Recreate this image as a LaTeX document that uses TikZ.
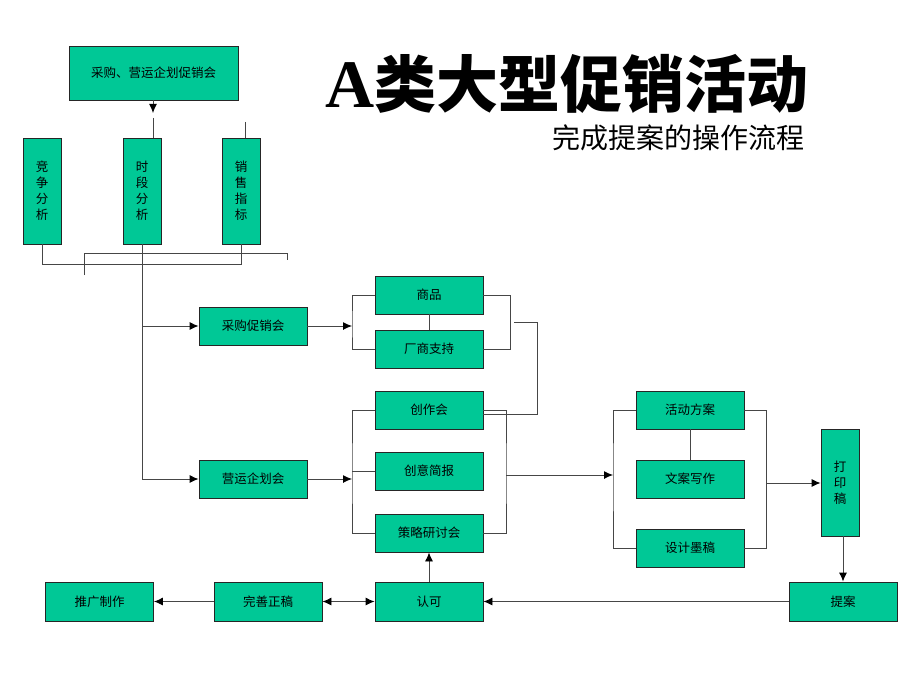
\documentclass[tikz,border=0pt]{standalone}
\usepackage{fontspec}
\setmainfont{Noto Sans CJK SC}
\newfontfamily\cjk{Noto Sans CJK SC}
\newfontfamily\romanA{Liberation Serif}
\usetikzlibrary{arrows.meta}
\definecolor{boxgreen}{RGB}{0,200,150}
\definecolor{linegray}{RGB}{70,70,70}

\begin{document}
\begin{tikzpicture}[x=1pt, y=-1pt, >={Latex[length=9pt,width=8pt,black]},
  box/.style={draw=black!85, line width=0.9pt, fill=boxgreen, inner sep=0pt,
    minimum width=108pt, minimum height=38pt, font=\fontsize{12.5}{14}\selectfont},
  tallbox/.style={box, minimum width=38pt, minimum height=106pt, align=center,
    font=\fontsize{12.5}{16}\selectfont},
  link/.style={draw=linegray, line width=0.9pt}]
\useasboundingbox (0,0) rectangle (920,690);
% title
\node[anchor=base west, inner sep=0pt] (title) at (325,107)
  {{\fontsize{68}{70}\selectfont\romanA\bfseries A}{\fontsize{62}{64}\selectfont\cjk\bfseries 类大型促销活动}};
\node[anchor=base east, inner sep=0pt] (subtitle) at (805,148)
  {\fontsize{28}{30}\selectfont 完成提案的操作流程};
% boxes
\node[box, minimum width=169pt, minimum height=54pt] (meet) at (153.5,73) {采购、营运企划促销会};
\node[tallbox] (comp) at (42,191) {竞\\争\\分\\析};
\node[tallbox] (time) at (142,191) {时\\段\\分\\析};
\node[tallbox] (sales) at (241,191) {销\\售\\指\\标};
\node[box] (buy) at (253,326) {采购促销会};
\node[box] (ops) at (253,479) {营运企划会};
\node[box] (goods) at (429,295) {商品};
\node[box] (vendor) at (429,349) {厂商支持};
\node[box] (create) at (429,410) {创作会};
\node[box] (brief) at (429,471) {创意简报};
\node[box] (strategy) at (429,533) {策略研讨会};
\node[box] (plan) at (690,410) {活动方案};
\node[box] (copy) at (690,479) {文案写作};
\node[box] (design) at (690,548) {设计墨稿};
\node[tallbox, minimum height=107pt] (print) at (840,482.5) {打\\印\\稿};
\node[box, minimum height=39pt] (proposal) at (843,601.5) {提案};
\node[box, minimum height=39pt] (approve) at (429,601.5) {认可};
\node[box, minimum height=39pt] (final) at (268,601.5) {完善正稿};
\node[box, minimum height=39pt] (promo) at (99.5,601.5) {推广制作};
% free ends
\coordinate (meetend) at (153,113);
\coordinate (timetop) at (153,118);
\coordinate (salestop) at (245,122);
\coordinate (jbar) at (0,264);
\coordinate (gl) at (84,275);
\coordinate (gm) at (287,253);
\coordinate (gr) at (287,260);
\coordinate (bj) at (352,326);
\coordinate (sp) at (514,322);
\coordinate (sq) at (537,414);
\coordinate (oj) at (352,475);
\coordinate (cr) at (506,475);
\coordinate (pj) at (613,475);
\coordinate (pr) at (766,483);
% connectors
\draw [->, link] (meet.south -| meetend) -- (meetend);
\draw [link] (timetop) -- (timetop |- time.north);
\draw [link] (salestop) -- (salestop |- sales.north);
\draw [link] (comp.south) -- (comp.south |- jbar) -| (sales.south);
\draw [link] (gl) |- (gm) -- (gr);
\draw [->, link] (time.south) |- (ops.west);
\draw [->, link] (time.south |- buy.west) -- (buy.west);
\draw [->, link] (buy.east) -- (bj);
\draw [link] (goods.west) -| (bj) |- (vendor.west);
\draw [link] (goods.south) -- (vendor.north);
\draw [link] (goods.east) -- ++(27,0) |- (vendor.east);
\draw [link] (sp) -| (sq) -- (sq -| create.east);
\draw [->, link] (ops.east) -- (ops.east -| oj);
\draw [link] (create.west) -| (oj) |- (strategy.west);
\draw [link] (brief.west) -- (brief.west -| oj);
\draw [link] (create.east) -| (cr) |- (strategy.east);
\draw [->, link] (cr) -- (pj);
\draw [link] (plan.west) -| (pj) |- (design.west);
\draw [link] (plan.south) -- (copy.north);
\draw [link] (plan.east) -| (pr) |- (design.east);
\draw [->, link] (pr) -- (pr -| print.west);
\draw [->, link] (print.south -| proposal.north) -- (proposal.north);
\draw [->, link] (proposal.west) -- (approve.east);
\draw [->, link] (approve.north) -- (strategy.south);
\draw [<->, link] (final.east) -- (approve.west);
\draw [->, link] (final.west) -- (promo.east);
\end{tikzpicture}
\end{document}
